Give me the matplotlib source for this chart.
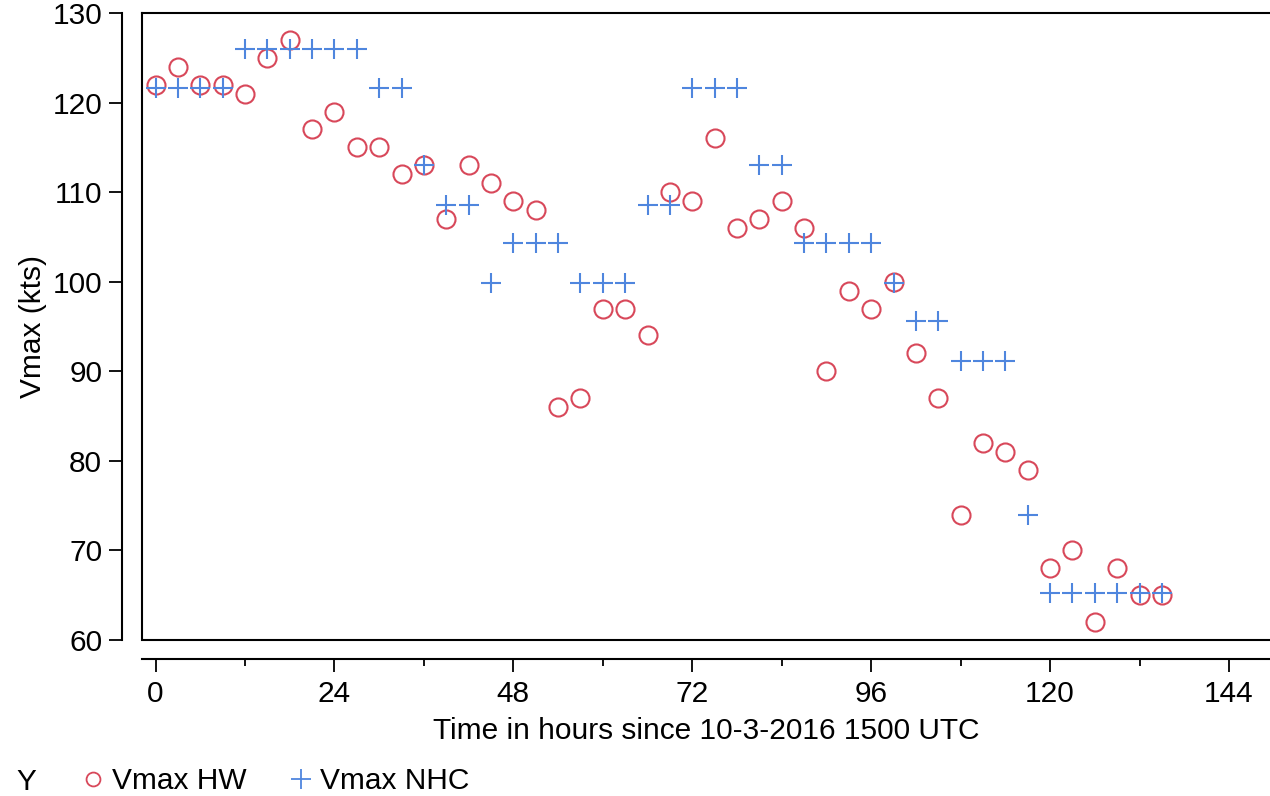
import matplotlib
matplotlib.use("Agg")
import matplotlib.pyplot as plt
from matplotlib.lines import Line2D
from matplotlib.ticker import MultipleLocator

plt.rcParams['font.family'] = ['Liberation Sans', 'DejaVu Sans']

# hours since 10-3-2016 1500 UTC, every 3 h
hours = list(range(0, 138, 3))
vmax_hw = [122, 124, 122, 122, 121, 125, 127, 117, 119, 115, 115, 112, 113, 107, 113, 111,
           109, 108, 86, 87, 97, 97, 94, 110, 109, 116, 106, 107, 109, 106, 90, 99,
           97, 100, 92, 87, 74, 82, 81, 79, 68, 70, 62, 68, 65, 65]
vmax_nhc = [121.6, 121.6, 121.6, 121.6, 126.0, 126.0, 126.0, 126.0, 126.0, 126.0, 121.6, 121.6,
            113.0, 108.6, 108.6, 99.9, 104.3, 104.3, 104.3, 99.9, 99.9, 99.9, 108.6, 108.6,
            121.6, 121.6, 121.6, 113.0, 113.0, 104.3, 104.3, 104.3, 104.3, 99.9, 95.6, 95.6,
            91.2, 91.2, 91.2, 73.9, 65.2, 65.2, 65.2, 65.2, 65.2, 65.2]

red = '#D8485A'
blue = '#4F86DE'
fs = 21.5

fig = plt.figure(figsize=(12.7, 7.96), dpi=100)
ax = fig.add_axes([0.1116, 0.196, 0.8884, 0.7877])

ax.plot(hours, vmax_hw, linestyle='none', marker='o', markersize=13,
        markerfacecolor='none', markeredgecolor=red, markeredgewidth=1.5)
ax.plot(hours, vmax_nhc, linestyle='none', marker='+', markersize=14,
        markeredgecolor=blue, markeredgewidth=1.5)

ax.set_xlim(-1.85, 149.5)
ax.set_ylim(60, 130)
ax.xaxis.set_major_locator(MultipleLocator(24))
ax.xaxis.set_minor_locator(MultipleLocator(12))
ax.yaxis.set_major_locator(MultipleLocator(10))

# frame around the data area
for side in ['left', 'bottom']:
    ax.spines[side].set_position(('outward', 14))
    ax.spines[side].set_linewidth(1.5)
ax.spines['right'].set_visible(False)
ax.spines['top'].set_linewidth(1.5)
ax.plot([0, 0, 1], [1, 0, 0], transform=ax.transAxes, color='black',
        linewidth=1.5, clip_on=False, solid_joinstyle='miter')

ax.tick_params(which='major', length=9.5, width=1.3, labelsize=fs, pad=5)
ax.tick_params(which='minor', length=5, width=1.3)

ax.set_xlabel('Time in hours since 10-3-2016 1500 UTC', fontsize=fs, labelpad=7)
ax.set_ylabel('Vmax (kts)', fontsize=fs, labelpad=4)

handles = [
    Line2D([], [], linestyle='none', marker='o', markersize=10, markerfacecolor='none',
           markeredgecolor=red, markeredgewidth=1.3, label='Vmax HW'),
    Line2D([], [], linestyle='none', marker='+', markersize=14, markeredgecolor=blue,
           markeredgewidth=1.3, label='Vmax NHC'),
]
fig.text(0.013, 0.008, 'Y', fontsize=fs, ha='left', va='baseline')
fig.legend(handles=handles, loc='lower left', bbox_to_anchor=(0.045, -0.033), ncol=2,
           frameon=False, fontsize=fs, handlelength=0.6, handletextpad=0.35,
           columnspacing=1.5)

fig.savefig('out.png', dpi=100)
